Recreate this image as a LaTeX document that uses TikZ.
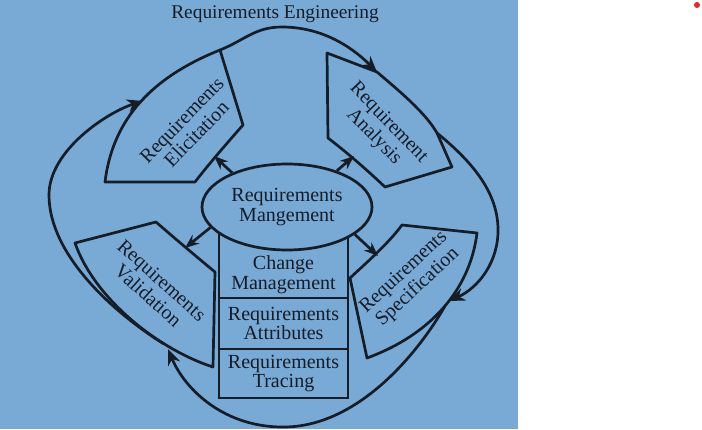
\documentclass[tikz,border=0pt]{standalone}
\usepackage{fontspec}
\setmainfont{Liberation Serif}
\usepackage{xcolor}
\definecolor{photoBlue}{RGB}{121,169,213}
\definecolor{inkDark}{HTML}{151D28}
\definecolor{dotRed}{HTML}{E5262A}
\usepackage{tikz}
\usetikzlibrary{shapes.geometric, arrows.meta, positioning}

\begin{document}
\begin{tikzpicture}[
    x=0.5pt, y=-0.5pt,
    color=inkDark,
    lbltext/.style={
        font=\fontsize{10pt}{9.8pt}\selectfont,
        align=center,
        inner sep=0pt
    },
    turnlbl/.style={lbltext, font=\fontsize{10pt}{10.2pt}\selectfont},
    phase/.style={line width=1.35pt, line join=round},
    cycarrow/.style={line width=1.35pt, -{Stealth[length=8pt, width=6.5pt]}},
    mgmtarrow/.style={line width=1.35pt, -{Stealth[length=7pt, width=5.5pt]}},
    stackbox/.style={
        rectangle,
        draw,
        line width=1.35pt,
        minimum width=64.5pt,
        outer sep=0pt,
        inner sep=0pt
    }
]

\fill[white] (0,0) rectangle (702,429);
\useasboundingbox (0,0) rectangle (702,429);
\fill[photoBlue] (0,0) rectangle (518,429);
\node[circle, fill=dotRed, inner sep=0pt, minimum size=3pt] (dot) at (697,5) {};

\node[font=\fontsize{9.7pt}{12pt}\selectfont, inner sep=0pt] (title) at (275,14) {Requirements Engineering};

\coordinate (elicTop) at (220,50);
\coordinate (anaTip) at (377,72);
\coordinate (anaOut) at (437,133);
\coordinate (specTip) at (449,301);
\coordinate (specOut) at (445,306);
\coordinate (valTip) at (168,349);
\coordinate (valOut) at (164,344);
\coordinate (elicTip) at (143,101);

\draw[cycarrow] (elicTop) .. controls (245,40) and (255,27) .. (282,27)
    .. controls (320,27) and (350,45) .. (anaTip);
\draw[cycarrow] (anaOut) .. controls (470,160) and (497,190) .. (498,228)
    .. controls (499,262) and (478,288) .. (specTip);
\draw[cycarrow] (specOut) .. controls (420,350) and (360,426) .. (285,427)
    .. controls (225,428) and (185,390) .. (valTip);
\draw[cycarrow] (valOut) .. controls (114,313) and (49,255) .. (49,195)
    .. controls (49,150) and (108,112) .. (elicTip);

\draw[phase] (105,182) .. controls (112,125) and (145,80) .. (elicTop)
    -- (243,125) .. controls (228,142) and (208,165) .. (195,182) -- cycle;
\draw[phase] (327,53) -- (anaTip) .. controls (398,90) and (425,112) .. (anaOut)
    -- (452,167) -- (385,187) .. controls (365,168) and (345,151) .. (328,138) -- cycle;
\draw[phase] (402,225) -- (477,233) .. controls (470,290) and (430,335) .. (367,358)
    -- (350,278) .. controls (365,264) and (388,244) .. (402,225) -- cycle;
\draw[phase] (75,243) -- (156,222) .. controls (172,236) and (198,258) .. (215,272)
    -- (213,367) .. controls (160,350) and (95,300) .. (75,243) -- cycle;

\node[turnlbl, rotate=46] (elicLbl) at (189,127) {Requirements\\Elicitation};
\node[turnlbl, rotate=-46] (anaLbl) at (381,130) {Requirement\\Analysis};
\node[turnlbl, rotate=43] (specLbl) at (411,280) {Requirements\\Specification};
\node[turnlbl, rotate=-42] (valLbl) at (155,288) {Requirements\\Validation};

\node[stackbox, minimum height=35pt, anchor=south] (chg) at (283.5,298) {};
\node[stackbox, lbltext, minimum height=25.5pt, below=0pt of chg] (attr) {Requirements\\Attributes};
\node[stackbox, lbltext, minimum height=24.5pt, below=0pt of attr] (trac) {Requirements\\Tracing};
\node[lbltext] (chgLbl) at (283.5,275) {Change\\Management};

\node[ellipse, draw, line width=1.35pt, fill=photoBlue, minimum width=85pt, minimum height=43pt, lbltext] (mgmt) at (287,207) {Requirements\\Mangement};

\coordinate (elicIn) at (214,156);
\coordinate (anaIn) at (354,156);
\coordinate (valIn) at (185,248);
\coordinate (specIn) at (378,256);

\draw[mgmtarrow] (mgmt.148) -- (elicIn);
\draw[mgmtarrow] (mgmt.36) -- (anaIn);
\draw[mgmtarrow] (mgmt.195) -- (valIn);
\draw[mgmtarrow] (mgmt.338) -- (specIn);
\end{tikzpicture}
\end{document}
